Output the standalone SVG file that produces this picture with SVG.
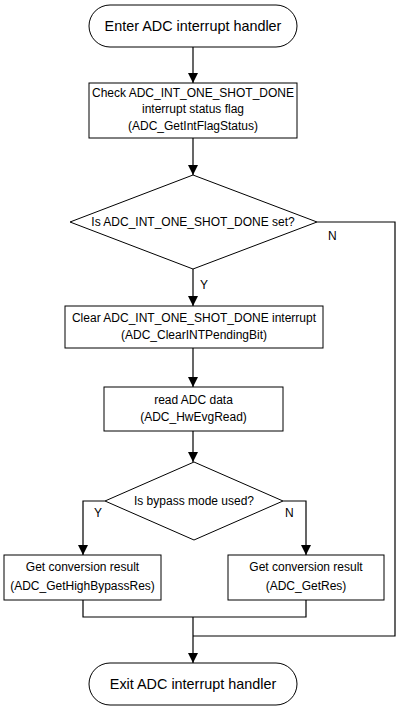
<svg xmlns="http://www.w3.org/2000/svg" width="403" height="714" viewBox="0 0 403 714">
<style>
.s{fill:#fff;stroke:#000;stroke-width:1}
.c{fill:none;stroke:#000;stroke-width:1.2}
text{font-family:"Liberation Sans",Arial,sans-serif;font-size:12px;fill:#000;text-anchor:middle}
.t{font-size:14.4px}
.l{text-anchor:start}
</style>
<defs>
<marker id="a" markerUnits="userSpaceOnUse" markerWidth="10" markerHeight="11" refX="10" refY="5" orient="auto">
<path d="M0,0 L10,5 L0,10 Z" fill="#000"/>
</marker>
</defs>
<rect width="403" height="714" fill="#fff"/>
<g id="connectors">
<path class="c" d="M193,47 V83" marker-end="url(#a)"/>
<path class="c" d="M193,138 V175" marker-end="url(#a)"/>
<path class="c" d="M193,269 V306" marker-end="url(#a)"/>
<path class="c" d="M193,348 V387" marker-end="url(#a)"/>
<path class="c" d="M193,431 V462" marker-end="url(#a)"/>
<path class="c" d="M105,501 H83 V555" marker-end="url(#a)"/>
<path class="c" d="M283,501 H306 V555" marker-end="url(#a)"/>
<path class="c" d="M83,600 V617 H306 V600"/>
<path class="c" d="M317,222 H395 V636 H193"/>
<path class="c" d="M193,617 V663" marker-end="url(#a)"/>
<text class="l" x="328" y="240">N</text>
<text class="l" x="200" y="289">Y</text>
<text class="l" x="94" y="517">Y</text>
<text class="l" x="285" y="517">N</text>
</g>
<g id="start">
<rect class="s" x="89" y="5" width="208" height="42" rx="21"/>
<text class="t" x="193" y="31">Enter ADC interrupt handler</text>
</g>
<g id="check">
<rect class="s" x="89" y="83" width="208" height="55"/>
<text x="193" y="97">Check ADC_INT_ONE_SHOT_DONE</text>
<text x="193" y="113">interrupt status flag</text>
<text x="193" y="130">(ADC_GetIntFlagStatus)</text>
</g>
<g id="decision1">
<polygon class="s" points="193,175 317,222 193,269 70,222"/>
<text x="193" y="226">Is ADC_INT_ONE_SHOT_DONE set?</text>
</g>
<g id="clear">
<rect class="s" x="65" y="306" width="258" height="42"/>
<text x="194" y="322">Clear ADC_INT_ONE_SHOT_DONE interrupt</text>
<text x="194" y="339">(ADC_ClearINTPendingBit)</text>
</g>
<g id="read">
<rect class="s" x="104" y="387" width="179" height="44"/>
<text x="193.5" y="404">read ADC data</text>
<text x="193.5" y="421">(ADC_HwEvgRead)</text>
</g>
<g id="decision2">
<polygon class="s" points="194,462 283,501 194,540 105,501"/>
<text x="194" y="505">Is bypass mode used?</text>
</g>
<g id="bypass">
<rect class="s" x="4" y="555" width="157" height="45"/>
<text x="82.5" y="571">Get conversion result</text>
<text x="82.5" y="590">(ADC_GetHighBypassRes)</text>
</g>
<g id="normal">
<rect class="s" x="228" y="555" width="156" height="45"/>
<text x="306" y="571">Get conversion result</text>
<text x="306" y="590">(ADC_GetRes)</text>
</g>
<g id="end">
<rect class="s" x="89" y="663" width="208" height="42" rx="21"/>
<text class="t" x="193" y="689">Exit ADC interrupt handler</text>
</g>
</svg>
